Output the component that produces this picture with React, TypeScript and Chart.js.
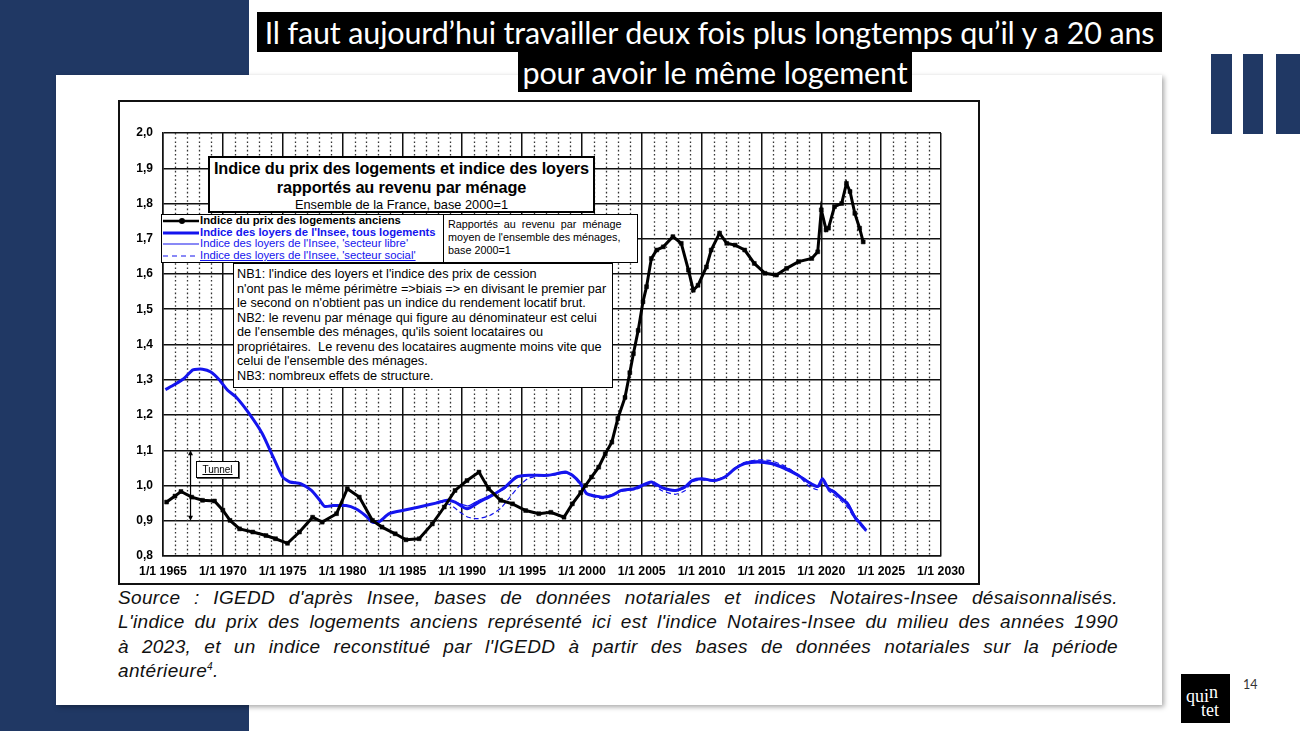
import { useEffect, useRef } from "react";
import { Chart, registerables } from "chart.js";
Chart.register(...registerables);

// ---------- data ----------
const xLabelYears = [1965, 1970, 1975, 1980, 1985, 1990, 1995, 2000, 2005, 2010, 2015, 2020, 2025, 2030];
const yTickLabels = ["0,8", "0,9", "1,0", "1,1", "1,2", "1,3", "1,4", "1,5", "1,6", "1,7", "1,8", "1,9", "2,0"];

const prixYears = [1965.3, 1966.0, 1966.5, 1967.4, 1968.3, 1969.3, 1970.0, 1970.6, 1971.4, 1972.5, 1973.6, 1974.4, 1975.4, 1976.4, 1977.5, 1978.3, 1979.5, 1980.4, 1981.4, 1982.5, 1983.3, 1984.4, 1985.3, 1986.4, 1987.5, 1988.5, 1989.4, 1990.4, 1991.4, 1992.2, 1993.2, 1994.2, 1995.3, 1996.4, 1997.4, 1998.5, 1999.2, 1999.9, 2000.3, 2000.8, 2001.4, 2001.95, 2002.5, 2003.0, 2003.6, 2004.0, 2004.3, 2004.7, 2005.1, 2005.4, 2005.8, 2006.25, 2006.8, 2007.6, 2008.3, 2008.9, 2009.3, 2009.7, 2010.4, 2010.8, 2011.5, 2012.1, 2012.8, 2013.6, 2014.4, 2015.3, 2016.25, 2017.1, 2018.1, 2019.2, 2019.7, 2020.0, 2020.4, 2020.6, 2021.1, 2021.7, 2022.1, 2022.4, 2022.8, 2023.2, 2023.5];
const prixValues = [0.953, 0.97, 0.983, 0.967, 0.958, 0.956, 0.93, 0.901, 0.877, 0.868, 0.858, 0.849, 0.836, 0.868, 0.91, 0.896, 0.92, 0.991, 0.967, 0.901, 0.882, 0.863, 0.846, 0.849, 0.891, 0.939, 0.986, 1.014, 1.038, 0.991, 0.958, 0.948, 0.929, 0.92, 0.924, 0.91, 0.948, 0.98, 1.0, 1.024, 1.052, 1.09, 1.123, 1.19, 1.25, 1.32, 1.374, 1.44, 1.521, 1.564, 1.644, 1.668, 1.677, 1.706, 1.687, 1.611, 1.554, 1.568, 1.62, 1.668, 1.716, 1.687, 1.682, 1.668, 1.63, 1.602, 1.597, 1.616, 1.635, 1.644, 1.663, 1.782, 1.725, 1.73, 1.791, 1.8, 1.857, 1.834, 1.772, 1.73, 1.691];

const tousYears = [1965.2, 1966.0, 1966.8, 1967.5, 1968.3, 1969.0, 1969.7, 1970.4, 1971.1, 1972.2, 1973.3, 1974.2, 1975.0, 1975.6, 1976.5, 1977.4, 1978.1, 1978.5, 1979.2, 1980.3, 1981.1, 1981.9, 1982.5, 1983.0, 1983.9, 1985.0, 1986.4, 1987.8, 1988.75, 1989.4, 1990.4, 1991.4, 1992.5, 1993.6, 1994.5, 1995.6, 1997.2, 1998.6, 1999.2, 1999.9, 2000.4, 2001.7, 2002.5, 2003.3, 2004.4, 2005.8, 2006.7, 2007.8, 2008.6, 2009.2, 2010.0, 2011.1, 2011.95, 2012.8, 2013.6, 2014.7, 2015.8, 2016.95, 2018.05, 2018.9, 2019.7, 2020.1, 2020.6, 2021.1, 2021.7, 2022.2, 2022.8, 2023.3, 2023.75];
const tousValues = [1.272, 1.287, 1.305, 1.328, 1.33, 1.322, 1.3, 1.27, 1.251, 1.204, 1.147, 1.081, 1.024, 1.01, 1.005, 0.986, 0.958, 0.941, 0.943, 0.943, 0.934, 0.915, 0.896, 0.896, 0.92, 0.929, 0.939, 0.95, 0.958, 0.953, 0.934, 0.953, 0.972, 0.996, 1.024, 1.029, 1.029, 1.038, 1.029, 1.005, 0.977, 0.967, 0.972, 0.986, 0.991, 1.01, 0.994, 0.986, 0.996, 1.014, 1.019, 1.014, 1.024, 1.048, 1.062, 1.067, 1.062, 1.048, 1.029, 1.01, 0.997, 1.019, 0.991, 0.981, 0.962, 0.948, 0.91, 0.891, 0.872];

const libreYears = [1988.0, 1989.0, 1989.8, 1990.5, 1991.4, 1992.5, 1993.5, 1994.3, 1995.0, 1996.5, 1997.5, 1998.6, 1999.2, 1999.9, 2000.4, 2001.7, 2002.5, 2003.3, 2004.4, 2005.8, 2006.7, 2007.8, 2008.6, 2009.2, 2010.0, 2011.1, 2011.95, 2012.8, 2013.6, 2014.7, 2015.8, 2016.95, 2018.05, 2018.9, 2019.7, 2020.1, 2020.6, 2021.1, 2021.7, 2022.2, 2022.8, 2023.3, 2023.75];
const libreValues = [0.955, 0.958, 0.948, 0.942, 0.958, 0.975, 0.99, 1.015, 1.027, 1.03, 1.029, 1.036, 1.03, 1.005, 0.978, 0.968, 0.974, 0.985, 0.993, 1.01, 0.992, 0.984, 0.993, 1.012, 1.02, 1.015, 1.026, 1.05, 1.065, 1.07, 1.066, 1.052, 1.032, 1.012, 0.997, 1.02, 0.993, 0.984, 0.966, 0.952, 0.915, 0.894, 0.874];

const socialYears = [1988.0, 1989.0, 1989.8, 1990.5, 1991.3, 1992.3, 1993.2, 1994.0, 1994.8, 1995.5, 1996.5, 1997.5, 1998.6, 1999.2, 1999.9, 2000.4, 2001.7, 2002.5, 2003.3, 2004.4, 2005.8, 2006.7, 2007.8, 2008.6, 2009.2, 2010.0, 2011.1, 2011.95, 2012.8, 2013.6, 2014.7, 2015.8, 2016.95, 2018.05, 2018.9, 2019.7, 2020.1, 2020.6, 2021.1, 2021.7, 2022.2, 2022.8, 2023.3, 2023.75];
const socialValues = [0.955, 0.945, 0.925, 0.91, 0.906, 0.915, 0.935, 0.968, 1.0, 1.02, 1.028, 1.029, 1.035, 1.028, 1.0, 0.975, 0.963, 0.97, 0.983, 0.988, 1.005, 0.985, 0.975, 0.985, 1.01, 1.016, 1.012, 1.024, 1.05, 1.066, 1.073, 1.07, 1.055, 1.03, 1.0, 0.988, 1.012, 0.985, 0.972, 0.955, 0.938, 0.905, 0.886, 0.87];

const tunnelYear = 1967.3;
const tunnelRange = [0.9, 1.1];

const titleLines = ["Il faut aujourd\u2019hui travailler deux fois plus longtemps qu\u2019il y a 20 ans", "pour avoir le même logement"];
const chartTitleLines = ["Indice du prix des logements et indice des loyers", "rapportés au revenu par ménage", "Ensemble de la France, base 2000=1"];
const legendLabels = ["Indice du prix des logements anciens", "Indice des loyers de l'Insee, tous logements", "Indice des loyers de l'Insee, 'secteur libre'", "Indice des loyers de l'Insee, 'secteur social'"];
const noteLines = ["Rapportés  au  revenu  par  ménage", "moyen de l'ensemble des ménages,", "base 2000=1"];
const nbLines = [
  "NB1: l'indice des loyers et l'indice des prix de cession",
  "n'ont pas le même périmètre =>biais => en divisant le premier par",
  "le second on n'obtient pas un indice du rendement locatif brut.",
  "NB2: le revenu par ménage qui figure au dénominateur est celui",
  "de l'ensemble des ménages, qu'ils soient locataires ou",
  "propriétaires.  Le revenu des locataires augmente moins vite que",
  "celui de l'ensemble des ménages.",
  "NB3: nombreux effets de structure.",
];
const sourceLines = [
  "Source : IGEDD d'après Insee, bases de données notariales et indices Notaires-Insee désaisonnalisés.",
  "L'indice du prix des logements anciens représenté ici est l'indice Notaires-Insee du milieu des années 1990",
  "à 2023, et un indice reconstitué par l'IGEDD à partir des bases de données notariales sur la période",
];

// ---------- styles ----------
const BLUE = "#1414ee";
const NAVY = "#203864";
const SANS = "'Liberation Sans', Arial, sans-serif";

const pts = (xs: number[], ys: number[]) => xs.map((x, i) => ({ x, y: ys[i] }));

const minorGrid = {
  id: "minorGrid",
  beforeDatasetsDraw(chart: any) {
    const { ctx, chartArea, scales } = chart;
    const xs = scales.x;
    ctx.save();
    ctx.strokeStyle = "#333";
    ctx.lineWidth = 1.3;
    ctx.setLineDash([1.6, 2.6]);
    for (let yr = Math.ceil(xs.min); yr <= xs.max; yr++) {
      if (yr % 5 === 0) continue;
      const px = Math.round(xs.getPixelForValue(yr)) + 0.5;
      ctx.beginPath();
      ctx.moveTo(px, chartArea.top);
      ctx.lineTo(px, chartArea.bottom);
      ctx.stroke();
    }
    ctx.restore();
  },
};

const tunnelArrow = {
  id: "tunnelArrow",
  afterDatasetsDraw(chart: any) {
    const { ctx, scales } = chart;
    const x = scales.x.getPixelForValue(tunnelYear);
    const y1 = scales.y.getPixelForValue(tunnelRange[1]);
    const y2 = scales.y.getPixelForValue(tunnelRange[0]);
    ctx.save();
    ctx.strokeStyle = "#000";
    ctx.fillStyle = "#000";
    ctx.lineWidth = 1.2;
    ctx.beginPath();
    ctx.moveTo(x, y1 + 3);
    ctx.lineTo(x, y2 - 3);
    ctx.stroke();
    ctx.beginPath();
    ctx.moveTo(x, y1);
    ctx.lineTo(x - 2.5, y1 + 5);
    ctx.lineTo(x + 2.5, y1 + 5);
    ctx.closePath();
    ctx.fill();
    ctx.beginPath();
    ctx.moveTo(x, y2);
    ctx.lineTo(x - 2.5, y2 - 5);
    ctx.lineTo(x + 2.5, y2 - 5);
    ctx.closePath();
    ctx.fill();
    ctx.restore();
  },
};

const abs = (left: number, top: number, width: number, height: number, extra: any = {}) => ({
  position: "absolute" as const,
  left,
  top,
  width,
  height,
  boxSizing: "border-box" as const,
  ...extra,
});

function LegendSample({ kind }: { kind: number }) {
  const w = 37;
  return (
    <svg width={w} height={12} style={{ display: "block", flex: "none" }}>
      {kind === 0 && (
        <>
          <line x1={1} y1={6} x2={w} y2={6} stroke="#000" strokeWidth={2.5} />
          <circle cx={20} cy={6} r={3} fill="#000" />
        </>
      )}
      {kind === 1 && <line x1={1} y1={6} x2={w} y2={6} stroke={BLUE} strokeWidth={3} />}
      {kind === 2 && <line x1={1} y1={6} x2={w} y2={6} stroke={BLUE} strokeWidth={1.2} />}
      {kind === 3 && <line x1={1} y1={6} x2={w} y2={6} stroke={BLUE} strokeWidth={1.2} strokeDasharray="5 4" />}
    </svg>
  );
}

export default function App() {
  const ref = useRef<HTMLCanvasElement>(null);

  useEffect(() => {
    document.body.style.margin = "0";
    const chart = new Chart(ref.current as HTMLCanvasElement, {
      type: "line",
      data: {
        datasets: [
          {
            label: legendLabels[0],
            data: pts(prixYears, prixValues),
            borderColor: "#000",
            backgroundColor: "#000",
            borderWidth: 3,
            pointRadius: 2.8,
            pointStyle: "rect",
            pointBackgroundColor: "#000",
            pointBorderColor: "#000",
            pointBorderWidth: 0.5,
            tension: 0,
          },
          {
            label: legendLabels[1],
            data: pts(tousYears, tousValues),
            borderColor: BLUE,
            borderWidth: 3,
            pointRadius: 0,
            tension: 0.2,
          },
          {
            label: legendLabels[2],
            data: pts(libreYears, libreValues),
            borderColor: BLUE,
            borderWidth: 1.2,
            pointRadius: 0,
            tension: 0.2,
          },
          {
            label: legendLabels[3],
            data: pts(socialYears, socialValues),
            borderColor: BLUE,
            borderWidth: 1.2,
            borderDash: [5, 3],
            pointRadius: 0,
            tension: 0.2,
          },
        ],
      },
      options: {
        animation: false,
        responsive: false,
        maintainAspectRatio: false,
        layout: { padding: { top: 33, right: 39, bottom: 0, left: 0 } },
        plugins: { legend: { display: false }, tooltip: { enabled: false } },
        scales: {
          x: {
            type: "linear",
            min: 1965,
            max: 2030,
            ticks: {
              stepSize: 1,
              autoSkip: false,
              maxRotation: 0,
              minRotation: 0,
              padding: 8,
              color: "#000",
              font: { family: SANS, size: 12.3, weight: "bold" },
              callback: (v: any) => (xLabelYears.includes(Math.round(v)) ? "1/1 " + Math.round(v) : ""),
            },
            grid: {
              drawTicks: false,
              color: (c: any) => (c.tick && Math.round(c.tick.value) % 5 === 0 ? "#111" : "rgba(0,0,0,0)"),
              lineWidth: 1.5,
            },
            border: { display: true, color: "#111", width: 1.5 },
            afterFit: (s: any) => {
              s.height = 29;
            },
          },
          y: {
            type: "linear",
            min: 0.8,
            max: 2.0,
            ticks: {
              stepSize: 0.1,
              padding: 10,
              color: "#000",
              font: { family: SANS, size: 12, weight: "bold" },
              callback: (v: any) => yTickLabels[Math.round((v - 0.8) * 10)] ?? "",
            },
            grid: { drawTicks: false, color: "#111", lineWidth: 1.5 },
            border: { display: true, color: "#111", width: 1.5 },
            afterFit: (s: any) => {
              s.width = 45;
            },
          },
        },
      } as any,
      plugins: [minorGrid, tunnelArrow],
    });
    return () => chart.destroy();
  }, []);

  const boxBorder = "1.5px solid #000";

  return (
    <div style={{ position: "absolute", left: 0, top: 0, width: 1300, height: 731, overflow: "hidden", background: "#fff", fontFamily: SANS }}>
      {/* navy background panel */}
      <div style={abs(0, 0, 249, 731, { background: NAVY })} />
      {/* white card */}
      <div style={abs(56, 75, 1106, 630, { background: "#fff", boxShadow: "2px 2px 5px rgba(0,0,0,0.35)" })} />

      {/* slide title */}
      <div style={abs(257, 12, 905, 40, { background: "#000", color: "#fff", fontFamily: "Lato, sans-serif", fontSize: 30.5, lineHeight: "40px", textAlign: "center", whiteSpace: "nowrap", letterSpacing: -0.15 })}>
        {titleLines[0]}
      </div>
      <div style={abs(518, 52, 394, 40, { background: "#000", color: "#fff", fontFamily: "Lato, sans-serif", fontSize: 30.5, lineHeight: "40px", textAlign: "center", whiteSpace: "nowrap", letterSpacing: -0.15 })}>
        {titleLines[1]}
      </div>

      {/* right bars */}
      <div style={abs(1211, 54, 21, 80, { background: NAVY })} />
      <div style={abs(1243, 54, 20, 80, { background: NAVY })} />
      <div style={abs(1276, 54, 24, 80, { background: NAVY })} />

      {/* chart frame */}
      <div style={abs(118, 100, 862, 485, { background: "#fff", border: "2px solid #111" })} />
      <canvas ref={ref} width={862} height={485} style={{ position: "absolute", left: 118, top: 100, width: 862, height: 485 }} />

      {/* chart title box */}
      <div style={abs(208, 156, 387, 57, { background: "#fff", border: "2px solid #000", textAlign: "center", paddingTop: 1, color: "#000", whiteSpace: "nowrap", overflow: "hidden" })}>
        <div style={{ fontSize: 16.3, fontWeight: "bold", lineHeight: "19px", letterSpacing: -0.1 }}>{chartTitleLines[0]}</div>
        <div style={{ fontSize: 16.3, fontWeight: "bold", lineHeight: "19px", letterSpacing: -0.1 }}>{chartTitleLines[1]}</div>
        <div style={{ fontSize: 12.8, lineHeight: "15px" }}>{chartTitleLines[2]}</div>
      </div>

      {/* legend box */}
      <div style={abs(161, 214, 283, 49, { background: "#fff", border: boxBorder, paddingTop: 0, whiteSpace: "nowrap", overflow: "hidden" })}>
        {legendLabels.map((lab, i) => (
          <div key={i} style={{ display: "flex", alignItems: "center", height: 11.7 }}>
            <LegendSample kind={i} />
            <span style={{ fontSize: 11.3, lineHeight: "11.7px", fontWeight: i < 2 ? "bold" : "normal", color: i === 0 ? "#000" : BLUE, marginLeft: 1, textDecoration: i === 3 ? "underline" : "none" }}>{lab}</span>
          </div>
        ))}
      </div>

      {/* rapportés box */}
      <div style={abs(443, 214, 195, 49, { background: "#fff", border: boxBorder, padding: "3px 4px 0 4px", fontSize: 10.8, lineHeight: "13.2px", color: "#000", whiteSpace: "pre", overflow: "hidden" })}>
        {noteLines.map((l, i) => (
          <div key={i}>{l}</div>
        ))}
      </div>

      {/* NB box */}
      <div style={abs(233, 263, 380, 125, { background: "#fff", border: boxBorder, padding: "3px 3px", fontSize: 12.7, lineHeight: "14.5px", color: "#000", whiteSpace: "pre", overflow: "hidden" })}>
        {nbLines.map((l, i) => (
          <div key={i}>{l}</div>
        ))}
      </div>

      {/* Tunnel label */}
      <div style={abs(196, 461, 43, 17, { background: "#fff", border: "1px solid #000", boxShadow: "1px 1px 0 #555", fontSize: 10, lineHeight: "15px", textAlign: "center", textDecoration: "underline", color: "#000" })}>
        Tunnel
      </div>

      {/* source text */}
      <div style={abs(118, 586, 1000, 100, { fontStyle: "italic", fontSize: 19, lineHeight: "24.4px", color: "#111" })}>
        {sourceLines.map((l, i) => (
          <div key={i} style={{ textAlign: "justify", textAlignLast: "justify", letterSpacing: 0.35 } as any}>{l}</div>
        ))}
        <div style={{ letterSpacing: 0.35 }}>
          antérieure<sup style={{ fontSize: 10, verticalAlign: "7px", lineHeight: 0 }}>4</sup>.
        </div>
      </div>

      {/* logo */}
      <div style={abs(1181, 674, 49, 49, { background: "#000", color: "#fff", fontFamily: "'Liberation Serif', 'DejaVu Serif', serif" })}>
        <div style={{ position: "absolute", left: 5, top: 13, fontSize: 18, lineHeight: "18px", whiteSpace: "nowrap" }}>
          qui<span style={{ position: "relative", top: -4 }}>n</span>
        </div>
        <div style={{ position: "absolute", left: 20, top: 27, fontSize: 18, lineHeight: "18px", whiteSpace: "nowrap" }}>tet</div>
      </div>
      <div style={abs(1243, 677, 30, 16, { fontFamily: "Lato, sans-serif", fontSize: 12.5, color: "#333" })}>14</div>
    </div>
  );
}
